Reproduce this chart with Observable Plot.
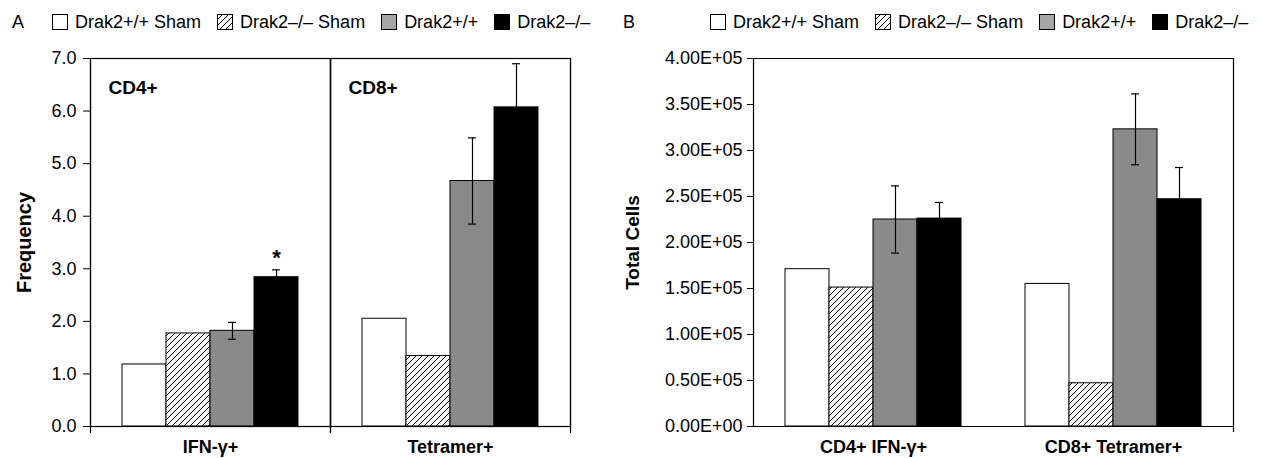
<!DOCTYPE html>
<html><head><meta charset="utf-8">
<script src="https://cdn.jsdelivr.net/npm/d3@7"></script>
<script src="https://cdn.jsdelivr.net/npm/@observablehq/plot@0.6"></script>
<style>
body{margin:0;background:#fff;}
#fig{position:relative;width:1261px;height:458px;font-family:"Liberation Sans",Arial,sans-serif;color:#000;overflow:hidden;background:#fff;}
.tag{position:absolute;top:11px;font-size:18px;line-height:22px;}
.legend{position:absolute;top:11px;height:22px;display:flex;align-items:center;font-size:18px;white-space:nowrap;}
.item{display:flex;align-items:center;}
.item svg{margin-right:7px;}
.plot{position:absolute;top:40px;}
</style></head><body>
<svg width="0" height="0" style="position:absolute">
<defs>
<pattern id="hatch" patternUnits="userSpaceOnUse" width="6" height="6">
<rect width="6" height="6" fill="#fff"/>
<path d="M-1,1 l2,-2 M0,6 l6,-6 M5,7 l2,-2" stroke="#000" stroke-width="1"/>
</pattern>
</defs>
</svg>
<div id="fig"></div>
<script>
// ---------- data ----------
const groups = ["Drak2+/+ Sham", "Drak2–/– Sham", "Drak2+/+", "Drak2–/–"];
const groupFills = ["#ffffff", "url(#hatch)", "#8a8a8a", "#000000"];
const legendFills = ["#ffffff", "url(#hatch)", "#a6a6a6", "#000000"];

// Panel A: frequency
const catsA = ["IFN-γ+", "Tetramer+"];
const subsetsA = ["CD4+", "CD8+"];
const freqIFN = [1.18, 1.77, 1.82, 2.84];
const freqTet = [2.05, 1.34, 4.67, 6.07];
const semIFN = [null, null, 0.16, 0.14];
const semTet = [null, null, 0.82, 0.83];
const yTicksA = [0, 1, 2, 3, 4, 5, 6, 7];
const yTickLabelsA = ["0.0", "1.0", "2.0", "3.0", "4.0", "5.0", "6.0", "7.0"];
const sigA = [{cat: "IFN-γ+", group: "Drak2–/–", mark: "*"}];

// Panel B: total cells
const catsB = ["CD4+ IFN-γ+", "CD8+ Tetramer+"];
const cellsCD4 = [171000, 151000, 225000, 226000];
const cellsCD8 = [155000, 47000, 323000, 247000];
const semCD4 = [null, null, 36500, 17500];
const semCD8 = [null, null, 38500, 34500];
const yTicksB = [0, 50000, 100000, 150000, 200000, 250000, 300000, 350000, 400000];
const yTickLabelsB = ["0.00E+00", "0.50E+05", "1.00E+05", "1.50E+05", "2.00E+05", "2.50E+05", "3.00E+05", "3.50E+05", "4.00E+05"];

// ---------- build tables ----------
function rows(cats, values, sems) {
  return cats.flatMap((c, ci) => groups.map((g, gi) => ({cat: c, group: g, value: values[ci][gi], sem: sems[ci][gi]})));
}
const rowsA = rows(catsA, [freqIFN, freqTet], [semIFN, semTet]);
const rowsB = rows(catsB, [cellsCD4, cellsCD8], [semCD4, semCD8]);
const subsetRowsA = catsA.map((c, i) => ({cat: c, label: subsetsA[i]}));
sigA.forEach(s => { const r = rowsA.find(d => d.cat === s.cat && d.group === s.group); s.top = r.value + r.sem; });

const FONT = '"Liberation Sans", Arial, sans-serif';

function errMarks(data) {
  const e = data.filter(d => d.sem != null);
  const lo = d => d.value - d.sem, hi = d => d.value + d.sem;
  return [
    Plot.ruleX(e, {fx: "cat", x: "group", y1: lo, y2: hi, stroke: "#000", strokeWidth: 1.2}),
    Plot.tickY(e, {fx: "cat", x: "group", y: hi, stroke: "#000", strokeWidth: 1.2, insetLeft: 18, insetRight: 18}),
    Plot.tickY(e, {fx: "cat", x: "group", y: lo, stroke: "#000", strokeWidth: 1.2, insetLeft: 18, insetRight: 18})
  ];
}

function common(width, marginLeft, marginRight, cats, yDomain) {
  return {
    width, height: 418, marginTop: 18, marginBottom: 32, marginLeft, marginRight,
    style: {fontFamily: FONT, fontSize: "18px", color: "#000", background: "#fff", overflow: "visible"},
    fx: {domain: cats, padding: 0, label: null},
    x: {domain: groups, paddingInner: 0, paddingOuter: 0.727, axis: null},
    y: {domain: yDomain, label: null},
    color: {domain: groups, range: groupFills}
  };
}

const plotA = Plot.plot({
  ...common(610, 90, 40, catsA, [0, 7]),
  marks: [
    Plot.barY(rowsA, {fx: "cat", x: "group", y: "value", fill: "group", stroke: "#000", strokeWidth: 1}),
    ...errMarks(rowsA),
    Plot.frame({stroke: "#000", strokeWidth: 1.2}),
    Plot.frame({anchor: "left", stroke: "#000", strokeWidth: 1.2, insetBottom: -6}),
    Plot.frame({anchor: "right", stroke: "#000", strokeWidth: 1.2, insetBottom: -6}),
    Plot.axisY({ticks: yTicksA, tickFormat: d => yTickLabelsA[yTicksA.indexOf(d)], tickSize: 7, tickPadding: 7, label: null, fontSize: 18}),
    Plot.axisFx({anchor: "bottom", tickSize: 0, tickPadding: 14, fontWeight: "bold", fontSize: 18, label: null}),
    Plot.text(subsetRowsA, {fx: "cat", text: "label", frameAnchor: "top-left", dx: 18, dy: 22, textAnchor: "start", fontWeight: "bold", fontSize: 19}),
    Plot.text(sigA, {fx: "cat", x: "group", y: "top", text: "mark", dy: -12, fontWeight: "bold", fontSize: 22}),
    Plot.text([{cat: catsA[0], t: "Frequency"}], {fx: "cat", text: "t", frameAnchor: "left", textAnchor: "middle", rotate: -90, dx: -66, fontWeight: "bold", fontSize: 20})
  ]
});

const plotB = Plot.plot({
  ...common(651, 142, 28, catsB, [0, 400000]),
  marks: [
    Plot.barY(rowsB, {fx: "cat", x: "group", y: "value", fill: "group", stroke: "#000", strokeWidth: 1}),
    ...errMarks(rowsB),
    Plot.frame({anchor: "top", stroke: "#000", strokeWidth: 1.2}),
    Plot.frame({anchor: "bottom", stroke: "#000", strokeWidth: 1.2}),
    Plot.frame({anchor: "left", facetAnchor: "left", stroke: "#000", strokeWidth: 1.2}),
    Plot.frame({anchor: "right", facetAnchor: "right", stroke: "#000", strokeWidth: 1.2, insetBottom: -5}),
    Plot.axisY({ticks: yTicksB, tickFormat: d => yTickLabelsB[yTicksB.indexOf(d)], tickSize: 6, tickPadding: 5, label: null, fontSize: 18}),
    Plot.axisFx({anchor: "bottom", tickSize: 0, tickPadding: 14, fontWeight: "bold", fontSize: 18, label: null}),
    Plot.text([{cat: catsB[0], t: "Total Cells"}], {fx: "cat", text: "t", frameAnchor: "left", textAnchor: "middle", rotate: -90, dx: -121, fontWeight: "bold", fontSize: 19})
  ]
});

// ---------- layout ----------
const fig = document.getElementById("fig");
function swatch(fill) {
  const ns = "http://www.w3.org/2000/svg";
  const s = document.createElementNS(ns, "svg");
  s.setAttribute("width", 16); s.setAttribute("height", 16);
  const r = document.createElementNS(ns, "rect");
  r.setAttribute("x", 0.5); r.setAttribute("y", 0.5); r.setAttribute("width", 15); r.setAttribute("height", 15);
  r.setAttribute("fill", fill); r.setAttribute("stroke", "#000");
  s.appendChild(r);
  return s;
}
function legend(tag, tagLeft, left) {
  const t = document.createElement("div");
  t.className = "tag"; t.style.left = tagLeft + "px"; t.textContent = tag;
  fig.appendChild(t);
  const lg = document.createElement("div");
  lg.className = "legend"; lg.style.left = left + "px";
  groups.forEach((g, i) => {
    const it = document.createElement("div");
    it.className = "item";
    if (i < groups.length - 1) it.style.marginRight = "16px";
    it.appendChild(swatch(legendFills[i]));
    const sp = document.createElement("span"); sp.textContent = g;
    it.appendChild(sp);
    lg.appendChild(it);
  });
  fig.appendChild(lg);
}
legend("A", 12, 52);
legend("B", 623, 710);

plotA.classList.add("plot"); plotA.style.left = "0px";
plotB.classList.add("plot"); plotB.style.left = "610px";
fig.appendChild(plotA);
fig.appendChild(plotB);
</script>
</body></html>
